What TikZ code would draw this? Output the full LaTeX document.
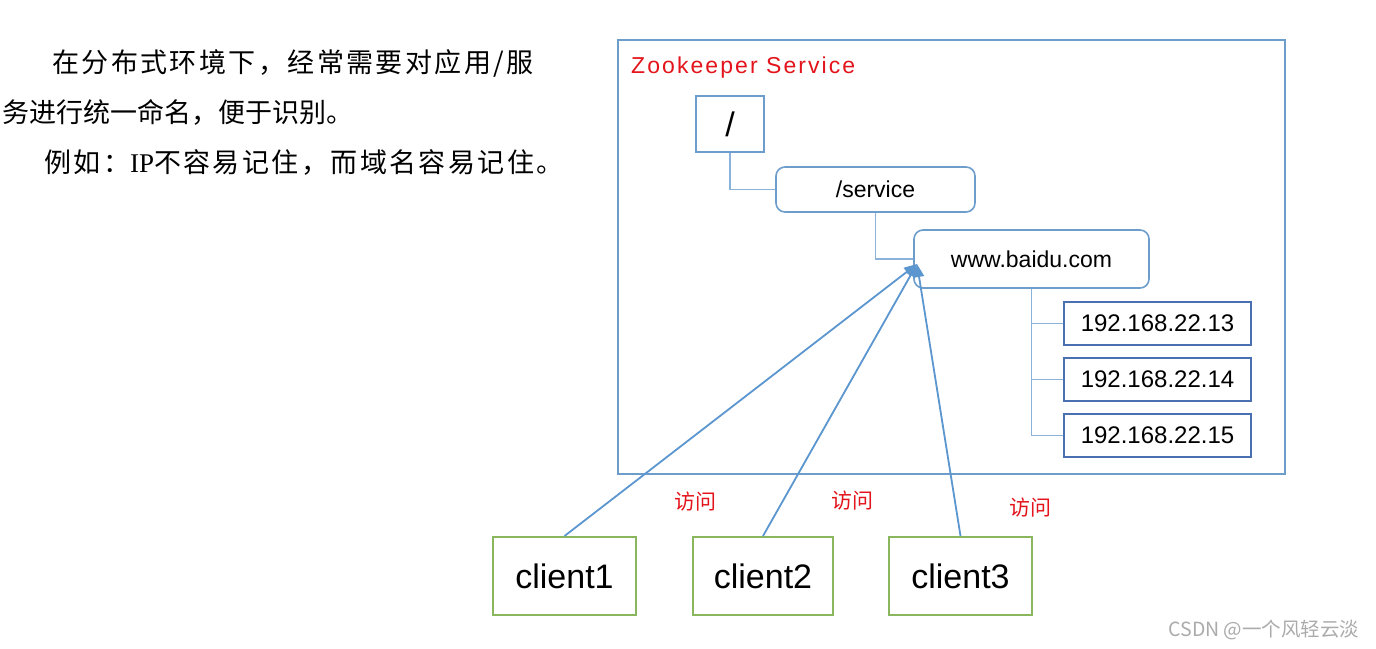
\documentclass[tikz,border=0pt]{standalone}
\usepackage{fontspec}
\setmainfont{Liberation Sans}
\newfontfamily\cjk{Noto Sans CJK SC}
\newfontfamily\cjkls[LetterSpace=9]{Noto Sans CJK SC}
\newfontfamily\cjkwm[LetterSpace=0]{Noto Sans CJK SC Light}
\newfontfamily\zkfont[LetterSpace=9]{Liberation Sans}
\newfontfamily\seriffont{Liberation Serif}
\usetikzlibrary{arrows.meta}
\definecolor{frameblue}{HTML}{6C9DCB}
\definecolor{linkblue}{HTML}{8AB2DB}
\definecolor{ipblue}{HTML}{4A70B2}
\definecolor{arrowblue}{HTML}{5B96CF}
\definecolor{clientgreen}{HTML}{8AB75E}
\definecolor{zkred}{HTML}{E3141B}
\definecolor{wmgray}{HTML}{ABABAB}
\tikzset{
  box/.style={draw=frameblue, line width=1.6pt, inner sep=0pt, fill=white},
  rbox/.style={box, rounded corners=9pt, font=\fontsize{23}{23}\selectfont},
  ipbox/.style={draw=ipblue, line width=2pt, inner sep=0pt, minimum width=187pt, minimum height=43pt, font=\fontsize{24}{24}\selectfont},
  clientbox/.style={draw=clientgreen, line width=2pt, inner sep=0pt, minimum height=78pt, font=\fontsize{34}{34}\selectfont},
  link/.style={draw=linkblue, line width=1.3pt},
  access/.style={draw=arrowblue, line width=1.8pt, -{Triangle[length=13pt,width=10pt]}},
  visit/.style={text=zkred, font=\cjk\fontsize{21}{21}\selectfont, inner sep=0pt},
  para/.style={anchor=base west, inner sep=0pt, font=\fontsize{27}{27}\selectfont}
}
\begin{document}
\begin{tikzpicture}[x=1pt,y=-1pt]
\useasboundingbox[fill=white] (0,0) rectangle (1376,648);
% left paragraph
\node[para] (l1) at (52,72) {\cjkls 在分布式环境下，经常需要对应用/服};
\node[para] (l2) at (2,122) {\cjk 务进行统一命名，便于识别。};
\node[para] (l3) at (44,172) {\cjkls 例如：{\seriffont IP}不容易记住，而域名容易记住。};
% service frame
\node[box, minimum width=667pt, minimum height=434pt] (zk) at (951.5,257) {};
\node[anchor=base west, inner sep=0pt, text=zkred, font=\zkfont\fontsize{23}{23}\selectfont] (zkt) at (631,73) {Zookeeper Service};
% tree
\node[box, minimum width=68pt, minimum height=56pt, font=\fontsize{34}{34}\selectfont] (root) at (730,124) {/};
\node[rbox, minimum width=199pt, minimum height=45pt] (svc) at (875.5,189.5) {/service};
\node[rbox, minimum width=235pt, minimum height=58pt] (www) at (1031.5,259) {www.baidu.com};
\node[ipbox] (ip1) at (1157.5,323.5) {192.168.22.13};
\node[ipbox] (ip2) at (1157.5,379.5) {192.168.22.14};
\node[ipbox] (ip3) at (1157.5,435.5) {192.168.22.15};
\draw[link] (root.south) |- (svc.west);
\draw[link] (svc.south) |- (www.west);
\draw[link] (www.south) |- (ip1.west);
\draw[link] (www.south) |- (ip2.west);
\draw[link] (www.south) |- (ip3.west);
% clients
\node[clientbox, minimum width=143pt] (c1) at (564.5,576) {client1};
\node[clientbox, minimum width=140pt] (c2) at (763,576) {client2};
\node[clientbox, minimum width=143pt] (c3) at (960.5,576) {client3};
\coordinate (tip) at (917,264);
\draw[access] (c1.north) -- (tip);
\draw[access] (c2.north) -- (tip);
\draw[access] (c3.north) -- (tip);
\node[visit] (v1) at (695,502) {访问};
\node[visit] (v2) at (852,501) {访问};
\node[visit] (v3) at (1030,508) {访问};
% watermark
\node[inner sep=0pt, text=wmgray, font=\cjk\fontsize{19.5}{19.5}\selectfont] (wm) at (1264,630) {CSDN @一个风轻云淡};
\end{tikzpicture}
\end{document}
